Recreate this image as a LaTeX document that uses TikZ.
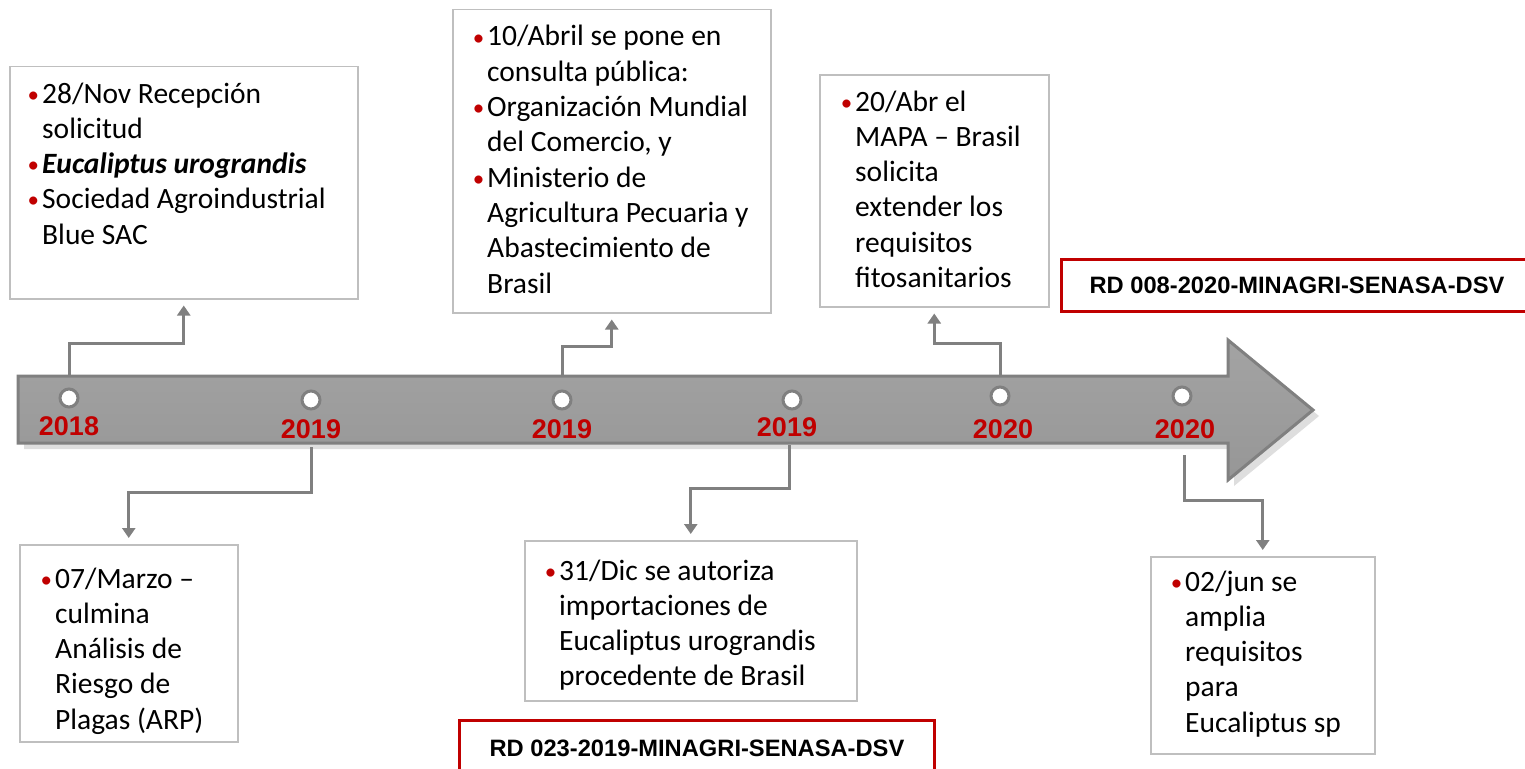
\documentclass[tikz,border=0pt]{standalone}
\usepackage{fontspec}
\setmainfont{Carlito}
\newfontfamily\headfont{Liberation Sans}
\usetikzlibrary{arrows.meta,positioning}
\definecolor{rd}{RGB}{192,0,0}
\definecolor{tl}{RGB}{128,128,128}
\definecolor{bx}{RGB}{191,191,191}
\definecolor{shd}{RGB}{222,222,222}
\newcommand{\bul}{\llap{\textcolor{rd}{\fontsize{23}{23}\selectfont\raisebox{1pt}{\textbullet}}\hspace{3pt}}}
\newcommand{\lines}[1]{\begin{tabular}[t]{@{}l@{}}#1\end{tabular}}

\begin{document}
\begin{tikzpicture}[
    x=1pt, y=-1pt,
    box/.style={
        draw=bx, line width=1.5pt, fill=white,
        inner sep=0, anchor=north west
    },
    txt/.style={
        anchor=base west, inner sep=0,
        font=\fontsize{29.5}{35.3}\selectfont
    },
    yr/.style={
        text=rd, inner sep=0,
        font=\headfont\bfseries\fontsize{27}{27}\selectfont
    },
    dot/.style={
        circle, draw=tl, line width=3pt, fill=white,
        minimum size=18pt, inner sep=0
    },
    conn/.style={
        draw=tl, line width=3pt, shorten >=6pt,
        -{Triangle[length=10pt,width=13pt]}
    },
    rdbox/.style={
        draw=rd, line width=3pt, fill=white, inner sep=0,
        font=\headfont\bfseries\fontsize{23.7}{24}\selectfont
    }
]
    \useasboundingbox (0,0) rectangle (1525,768);

    % timeline arrow
    \fill[shd,xshift=6pt,yshift=-6pt]
        (18,376) -- (1228,376) -- (1228,340) -- (1313,410)
        -- (1228,480) -- (1228,443) -- (18,443) -- cycle;
    \draw[tl,line width=3pt,top color=black!36,middle color=black!28,bottom color=black!41]
        (18,376) -- (1228,376) -- (1228,340) -- (1313,410)
        -- (1228,480) -- (1228,443) -- (18,443) -- cycle;

    \node[dot] (d1) at (69,398) {};
    \node[dot] (d2) at (311,400) {};
    \node[dot] (d3) at (562,400) {};
    \node[dot] (d4) at (792,400) {};
    \node[dot] (d5) at (1000,396) {};
    \node[dot] (d6) at (1182,396) {};

    \node[yr] (y1) at (69,426) {2018};
    \node[yr] (y2) at (311,429) {2019};
    \node[yr] (y3) at (562,429) {2019};
    \node[yr] (y4) at (787,427) {2019};
    \node[yr] (y5) at (1003,429) {2020};
    \node[yr] (y6) at (1185,429) {2020};

    % boxes above
    \node[box,minimum width=348pt,minimum height=232pt] (recepcion) at (9,66) {};
    \node[txt] at (42,103) {\lines{\bul 28/Nov Recepción\\solicitud\\
        \bul\textbf{\textit{Eucaliptus urograndis}}\\
        \bul Sociedad Agroindustrial\\Blue SAC}};

    \node[box,minimum width=318pt,minimum height=303pt] (consulta) at (452,9) {};
    \node[txt] at (487,46) {\lines{\bul 10/Abril se pone en\\consulta pública:\\
        \bul Organización Mundial\\del Comercio, y\\
        \bul Ministerio de\\Agricultura Pecuaria y\\Abastecimiento de\\Brasil}};

    \node[box,minimum width=229pt,minimum height=232pt] (mapa) at (819,74) {};
    \node[txt] at (855,111) {\lines{\bul 20/Abr el\\MAPA – Brasil\\solicita\\
        extender los\\requisitos\\fitosanitarios}};

    % boxes below
    \node[box,minimum width=218pt,minimum height=197pt] (arp) at (19,544) {};
    \node[txt] at (55,588) {\lines{\bul 07/Marzo –\\culmina\\Análisis de\\
        Riesgo de\\Plagas (ARP)}};

    \node[box,minimum width=332pt,minimum height=160pt] (autoriza) at (524,540) {};
    \node[txt] at (559,580) {\lines{\bul 31/Dic se autoriza\\importaciones de\\
        Eucaliptus urograndis\\procedente de Brasil}};

    \node[box,minimum width=224pt,minimum height=197pt] (amplia) at (1150,556) {};
    \node[txt] at (1185,591) {\lines{\bul 02/jun se\\amplia\\requisitos\\para\\
        Eucaliptus sp}};

    % resolutions
    \node[rdbox,minimum width=472pt,minimum height=52pt] (rd008) at (1297,285)
        {RD 008-2020-MINAGRI-SENASA-DSV};
    \node[rdbox,minimum width=475pt,minimum height=56pt] (rd023) at (697,748)
        {RD 023-2019-MINAGRI-SENASA-DSV};

    % connectors
    \coordinate (c1) at (69,376);
    \coordinate (c2) at (562,376);
    \coordinate (c3) at (1000,376);
    \coordinate (c4) at (311,447);
    \coordinate (c5) at (789,445);
    \coordinate (c6) at (1184,455);

    \draw[conn] (c1) -- ++(0,-33) -| (recepcion.south);
    \draw[conn] (c2) -- ++(0,-30) -| (consulta.south);
    \draw[conn] (c3) -- ++(0,-33) -| (mapa.south);
    \draw[conn] (c4) -- ++(0,45) -| (arp.north);
    \draw[conn] (c5) -- ++(0,43) -| (autoriza.north);
    \draw[conn] (c6) -- ++(0,45) -| (amplia.north);

\end{tikzpicture}
\end{document}
